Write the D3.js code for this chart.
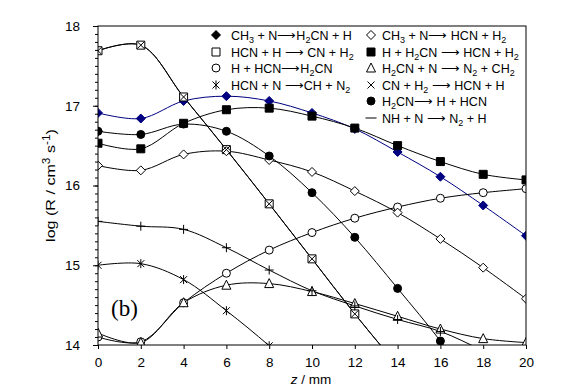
<!DOCTYPE html>
<html>
<head>
<meta charset="utf-8">
<script src="https://cdn.jsdelivr.net/npm/d3@7"></script>
<style>
body{margin:0;background:#fff;}
svg{display:block;font-family:"Liberation Sans",Arial,sans-serif;}
</style>
</head>
<body>
<div id="chart"></div>
<script>
// z positions (mm)
var zPos = [0, 2, 4, 6, 8, 10, 12, 14, 16, 18, 20];

// log rates, one value per z position (values under 14 run off the frame)
var ch3nToH2cnH   = [16.91, 16.84, 17.06, 17.12, 17.06, 16.91, 16.71, 16.42, 16.11, 15.75, 15.37];
var ch3nFirstPt   = [16.68];
var hcnHToCnH2    = [17.69, 17.76, 17.11, 16.45, 15.77, 15.08, 14.39, 13.74];
var hHcnToH2cn    = [14.10, 14.04, 14.53, 14.90, 15.19, 15.41, 15.59, 15.73, 15.84, 15.91, 15.96];
var hcnNToChN2    = [15.00, 15.02, 14.82, 14.43, 13.99, 13.50];
var ch3nToHcnH2   = [16.25, 16.19, 16.39, 16.43, 16.32, 16.17, 15.93, 15.66, 15.33, 14.97, 14.58];
var hH2cnToHcnH2  = [16.53, 16.46, 16.78, 16.95, 16.97, 16.87, 16.72, 16.50, 16.30, 16.14, 16.07];
var h2cnNToN2Ch2  = [14.15, 14.03, 14.53, 14.75, 14.77, 14.67, 14.52, 14.36, 14.20, 14.08, 14.03];
var cnH2ToHcnH    = [17.69, 17.76, 17.11, 16.45, 15.77, 15.08, 14.39, 13.74];
var h2cnToHHcn    = [16.68, 16.64, 16.77, 16.68, 16.37, 15.91, 15.35, 14.71, 14.05, 13.30];
var nhNToN2H      = [15.55, 15.49, 15.45, 15.22, 14.94, 14.68, 14.49, 14.32, 14.17, 13.93, 13.70];

var xTicks = [0, 2, 4, 6, 8, 10, 12, 14, 16, 18, 20];
var yTicks = [14, 15, 16, 17, 18];

var navy = "#000080";

// label markup: _x = subscript, ^x = superscript
var series = [
    {label:"CH_3 + N⟶H_2CN + H",     vals:ch3nToH2cnH,  sym:"diamond",  fill:navy,   col:navy, leg:"black"},
    {label:"HCN + H ⟶ CN + H_2",     vals:hcnHToCnH2,   sym:"square",   fill:"#fff", col:"#000"},
    {label:"H + HCN⟶H_2CN",          vals:hHcnToH2cn,   sym:"circle",   fill:"#fff", col:"#000"},
    {label:"HCN + N ⟶CH + N_2",      vals:hcnNToChN2,   sym:"asterisk", fill:"none", col:"#000"},
    {label:"CH_3 + N⟶ HCN + H_2",    vals:ch3nToHcnH2,  sym:"diamond",  fill:"#fff", col:"#000"},
    {label:"H + H_2CN ⟶ HCN + H_2",  vals:hH2cnToHcnH2, sym:"square",   fill:"#000", col:"#000"},
    {label:"H_2CN + N ⟶ N_2 + CH_2", vals:h2cnNToN2Ch2, sym:"triangle", fill:"#fff", col:"#000"},
    {label:"CN + H_2 ⟶ HCN + H",     vals:cnH2ToHcnH,   sym:"cross",    fill:"none", col:"#000"},
    {label:"H_2CN⟶ H + HCN",         vals:h2cnToHHcn,   sym:"circle",   fill:"#000", col:"#000"},
    {label:"NH + N ⟶ N_2 + H",       vals:nhNToN2H,     sym:"plus",     fill:"none", col:"#000", legSym:"dash"}
];

var width = 576, height = 392;
var plot = {left: 98, right: 526, top: 26, bottom: 345};

var xScale = d3.scaleLinear().domain([0, 20]).range([plot.left, plot.right]);
var yScale = d3.scaleLinear().domain([14, 18]).range([plot.bottom, plot.top]);

var svg = d3.select("#chart").append("svg")
    .attr("width", width)
    .attr("height", height);

svg.append("defs").append("clipPath").attr("id", "plotclip")
    .append("rect")
    .attr("x", plot.left).attr("y", plot.top)
    .attr("width", plot.right - plot.left)
    .attr("height", plot.bottom - plot.top);

function symPath(sym, s){
    var h = s / 2;
    if (sym == "diamond") return "M0," + (-h) + "L" + h + ",0L0," + h + "L" + (-h) + ",0Z";
    if (sym == "square") return "M" + (-h) + "," + (-h) + "h" + s + "v" + s + "h" + (-s) + "Z";
    if (sym == "triangle") return "M0," + (-h - 1) + "L" + (h + 0.5) + "," + h + "L" + (-h - 0.5) + "," + h + "Z";
    if (sym == "circle") return d3.symbol(d3.symbolCircle, Math.PI * h * h)();
    if (sym == "cross") return "M" + (-h + 1) + "," + (-h + 1) + "L" + (h - 1) + "," + (h - 1) + "M" + (-h + 1) + "," + (h - 1) + "L" + (h - 1) + "," + (-h + 1);
    if (sym == "plus") return "M" + (-h) + ",0H" + h + "M0," + (-h) + "V" + h;
    if (sym == "asterisk") return "M" + (-h + 1) + "," + (-h + 1) + "L" + (h - 1) + "," + (h - 1) + "M" + (-h + 1) + "," + (h - 1) + "L" + (h - 1) + "," + (-h + 1) + "M0," + (-h) + "V" + h;
    if (sym == "dash") return "M" + (-h - 1) + ",0H" + (h + 1);
    return "";
}
function symSize(sym){
    if (sym == "square") return 8;
    if (sym == "circle") return 8;
    if (sym == "triangle") return 8;
    if (sym == "diamond") return 9;
    return 9;
}

var line = d3.line()
    .x(function(d){return xScale(d[0])})
    .y(function(d){return yScale(d[1])})
    .curve(d3.curveCatmullRom.alpha(0.5));

var plotG = svg.append("g").attr("clip-path", "url(#plotclip)");

series.forEach(function(s){
    var pts = s.vals.map(function(v, i){return [zPos[i], v]});
    plotG.append("path")
        .attr("d", line(pts))
        .attr("fill", "none")
        .attr("stroke", s.col)
        .attr("stroke-width", 1);
});

series.forEach(function(s){
    var pts = s.vals.map(function(v, i){return [zPos[i], v]});
    plotG.selectAll(null).data(pts).enter().append("path")
        .attr("transform", function(d){return "translate(" + xScale(d[0]) + "," + yScale(d[1]) + ")"})
        .attr("d", symPath(s.sym, symSize(s.sym)))
        .attr("fill", s.fill)
        .attr("stroke", s.col)
        .attr("stroke-width", 1);
});

// the lone black diamond at z = 0
plotG.selectAll(null).data(ch3nFirstPt).enter().append("path")
    .attr("transform", function(d, i){return "translate(" + xScale(zPos[i]) + "," + yScale(d) + ")"})
    .attr("d", symPath("diamond", 9))
    .attr("fill", "#000")
    .attr("stroke", "#000");

// frame
svg.append("rect")
    .attr("x", plot.left).attr("y", plot.top)
    .attr("width", plot.right - plot.left)
    .attr("height", plot.bottom - plot.top)
    .attr("fill", "none")
    .attr("stroke", "#000")
    .attr("stroke-width", 1);

// axes
var yMinor = d3.range(140, 181).map(function(d){return d / 10});
svg.append("g")
    .attr("transform", "translate(" + plot.left + ",0)")
    .call(d3.axisLeft(yScale).tickValues(yMinor).tickSize(3).tickFormat(""))
    .call(function(g){g.select(".domain").remove()});

var yAxis = svg.append("g")
    .attr("class", "axis y-axis")
    .attr("transform", "translate(" + plot.left + ",0)")
    .call(d3.axisLeft(yScale).tickValues(yTicks).tickSize(5).tickPadding(13).tickFormat(d3.format("d")));
yAxis.select(".domain").remove();

var xAxis = svg.append("g")
    .attr("class", "axis x-axis")
    .attr("transform", "translate(0," + plot.bottom + ")")
    .call(d3.axisBottom(xScale).tickValues(xTicks).tickSize(4).tickPadding(8));
xAxis.select(".domain").remove();

svg.selectAll(".axis text")
    .attr("font-family", "'Liberation Sans', Arial, sans-serif")
    .attr("font-size", 13.5)
    .attr("fill", "#000");

// axis titles
var xt = svg.append("text")
    .attr("x", 311).attr("y", 384)
    .attr("text-anchor", "middle")
    .attr("font-size", 13.5);
xt.append("tspan").attr("font-style", "italic").text("z");
xt.append("tspan").text(" / mm");

var ytG = svg.append("g");
var yt = ytG.append("text")
    .attr("text-anchor", "middle")
    .attr("font-size", 13.5);
yt.append("tspan").text("log (R / cm");
yt.append("tspan").attr("font-size", 10).attr("dy", -5).text("3");
yt.append("tspan").attr("dy", 5).text(" s");
yt.append("tspan").attr("font-size", 10).attr("dy", -5).text("-1");
yt.append("tspan").attr("dy", 5).text(")");
// stretch along the reading direction to the length the reference shows (~113px)
var ytLen = yt.node().getBBox().width;
var ytK = ytLen > 0 ? Math.min(1.3, Math.max(0.7, 113 / ytLen)) : 1;
ytG.attr("transform", "translate(55," + ((plot.top + plot.bottom) / 2) + ") rotate(-90) scale(" + ytK + ",1)");

svg.append("text")
    .attr("x", 111).attr("y", 316)
    .attr("font-family", "'Liberation Serif', 'Times New Roman', serif")
    .attr("font-size", 23)
    .text("(b)");

// legend
function richText(t, str){
    var parts = str.split(/(_.|\^.)/);
    var shift = 0;
    parts.forEach(function(p){
        if (p == "") return;
        if (p[0] == "_" || p[0] == "^"){
            var dy = p[0] == "_" ? 3 : -4;
            t.append("tspan").attr("font-size", 9).attr("dy", dy - shift).text(p[1]);
            shift = dy;
        } else {
            t.append("tspan").attr("dy", -shift).text(p);
            shift = 0;
        }
    });
}

var legRowsY = [35, 52, 68, 85, 101, 118];
series.forEach(function(s, i){
    var col = i < 4 ? 0 : 1;
    var row = i < 4 ? i : i - 4;
    var mx = col == 0 ? 216 : 371;
    var tx = col == 0 ? 231 : 382;
    var y = legRowsY[row];
    var sym = s.legSym || s.sym;
    var lc = s.leg || s.col;
    svg.append("path")
        .attr("transform", "translate(" + mx + "," + y + ")")
        .attr("d", symPath(sym, symSize(sym)))
        .attr("fill", s.fill == "none" ? "none" : (s.fill == "#fff" ? "#fff" : lc))
        .attr("stroke", lc);
    var t = svg.append("text")
        .attr("x", tx).attr("y", y + 4.5)
        .attr("font-size", 12.5)
        .attr("fill", "#000");
    richText(t, s.label);
});
</script>
</body>
</html>
